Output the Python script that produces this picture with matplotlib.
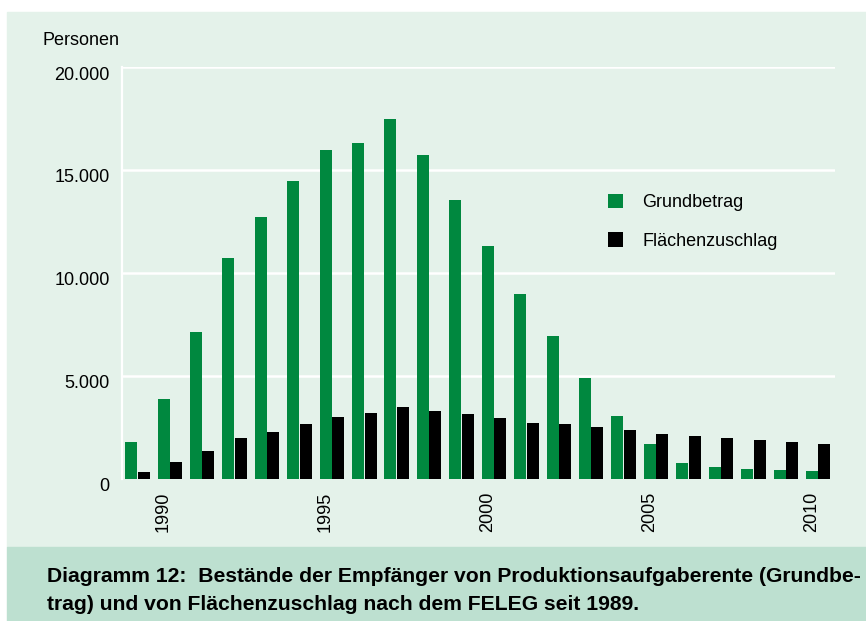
import matplotlib.pyplot as plt
from matplotlib.patches import Rectangle
from matplotlib.transforms import ScaledTranslation

# Daten: Bestände nach FELEG (Personen)
jahre = list(range(1989, 2011))
grundbetrag = [1780, 3870, 7130, 10730, 12720, 14480, 15980, 16320, 17490, 15740, 13550,
               11310, 8980, 6930, 4890, 3040, 1690, 760, 560, 460, 420, 370]
flaechenzuschlag = [300, 800, 1340, 1970, 2260, 2650, 2990, 3190, 3480, 3290, 3140,
                    2950, 2700, 2650, 2500, 2360, 2170, 2070, 1970, 1880, 1780, 1680]
y_ticks = [0, 5000, 10000, 15000, 20000]
y_labels = ['0', '5.000', '10.000', '15.000', '20.000']
x_ticks = [1990, 1995, 2000, 2005, 2010]

GRUEN = '#00883f'
HINTERGRUND = '#e4f2ea'
BAND = '#bde0d0'

plt.rcParams['font.family'] = ['Liberation Sans', 'DejaVu Sans']

fig = plt.figure(figsize=(8.66, 6.21), dpi=100)
fig.patch.set_facecolor('white')

# Hintergrundflächen
fig.patches.append(Rectangle((7 / 866, 1 - 547 / 621), 1, 535 / 621,
                             transform=fig.transFigure, color=HINTERGRUND, zorder=-10))
fig.patches.append(Rectangle((7 / 866, 0), 1, 1 - 547 / 621,
                             transform=fig.transFigure, color=BAND, zorder=-10))

ax = fig.add_axes([122 / 866, 1 - 478.5 / 621, 713 / 866, 411.5 / 621])
ax.set_facecolor('none')

breite = 0.37
versatz = 0.385
ax.bar(jahre, grundbetrag, width=breite, color=GRUEN, label='Grundbetrag', zorder=3)
ax.bar([j + versatz for j in jahre], flaechenzuschlag, width=breite, color='black',
       label='Flächenzuschlag', zorder=3)

ax.set_xlim(1988.72, 2010.71)
ax.set_ylim(0, 20000)

for s in ['top', 'right', 'bottom']:
    ax.spines[s].set_visible(False)
ax.spines['left'].set_color('white')
ax.spines['left'].set_linewidth(1.6)

for v in y_ticks[1:]:
    ax.axhline(v, color='white', linewidth=1.8, zorder=1)

ax.set_yticks(y_ticks)
ax.set_yticklabels(y_labels)
ax.set_xticks(x_ticks)
ax.set_xticklabels([str(x) for x in x_ticks], rotation=90)
ax.tick_params(axis='y', length=0, pad=9, labelsize=13)
ax.tick_params(axis='x', length=0, pad=9.5, labelsize=13)

# Y-Beschriftungen sitzen im Original etwas unter den Linien
verschiebung = ScaledTranslation(0, -6 / 100, fig.dpi_scale_trans)
for lbl in ax.get_yticklabels():
    lbl.set_transform(lbl.get_transform() + verschiebung)

fig.text(43 / 866, 1 - 45 / 621, 'Personen', fontsize=13, va='baseline', ha='left')

ax.legend(loc='upper left', bbox_to_anchor=(599 / 866, 1 - 185 / 621),
          bbox_transform=fig.transFigure, frameon=False, borderpad=0,
          handlelength=0.85, handleheight=0.85, handletextpad=1.05,
          labelspacing=1.15, fontsize=13)

# Bildunterschrift (zwei Zeilen)
fig.text(47 / 866, 1 - 582 / 621,
         'Diagramm 12:  Bestände der Empfänger von Produktionsaufgaberente (Grundbe-',
         fontsize=15.2, fontweight='bold', va='baseline', ha='left')
fig.text(47 / 866, 1 - 610 / 621,
         'trag) und von Flächenzuschlag nach dem FELEG seit 1989.',
         fontsize=15.2, fontweight='bold', va='baseline', ha='left')

fig.savefig('out.png', dpi=100)
